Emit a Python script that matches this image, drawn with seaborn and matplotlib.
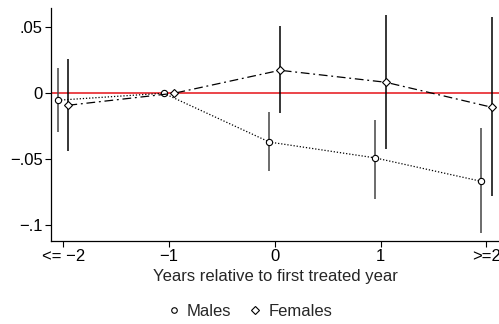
import numpy as np
import pandas as pd
import matplotlib
matplotlib.use("Agg")
import matplotlib.pyplot as plt
from matplotlib.lines import Line2D
import seaborn as sns

# event-time coefficients
years = [-2, -1, 0, 1, 2]
tick_labels = ["<= \u22122", "\u22121", "0", "1", ">=2"]

males_coef = [-0.0053, 0.0, -0.037, -0.049, -0.0667]
males_lo = [-0.029, 0.0, -0.059, -0.080, -0.106]
males_hi = [0.019, 0.0, -0.0144, -0.020, -0.026]

females_coef = [-0.0091, 0.0, 0.0174, 0.0083, -0.0106]
females_lo = [-0.044, 0.0, -0.015, -0.042, -0.078]
females_hi = [0.026, 0.0, 0.051, 0.059, 0.058]

sns.set_style("ticks")
plt.rcParams["font.family"] = ["Liberation Sans", "DejaVu Sans"]

males = pd.DataFrame({"x": np.array(years) - 0.05, "coef": males_coef,
                      "lo": males_lo, "hi": males_hi})
females = pd.DataFrame({"x": np.array(years) + 0.05, "coef": females_coef,
                        "lo": females_lo, "hi": females_hi})

fig = plt.figure(figsize=(4.99, 3.24), dpi=100)
ax = fig.add_axes([0.1022, 0.256, 0.8978, 0.719])

ax.axhline(0, color="#e8252b", lw=1.2, zorder=1)

# confidence intervals (skip reference year)
m = males.drop(index=1)
f = females.drop(index=1)
ax.vlines(m["x"], m["lo"], m["hi"], color="#444444", lw=1.1, zorder=2)
ax.vlines(f["x"], f["lo"], f["hi"], color="black", lw=1.1, zorder=2)

sns.lineplot(data=males, x="x", y="coef", ax=ax, color="black", lw=0.9,
             linestyle=(0, (1, 1.5)), marker="o", markersize=4.5,
             markerfacecolor="white", markeredgecolor="black",
             markeredgewidth=0.8, zorder=3)
sns.lineplot(data=females, x="x", y="coef", ax=ax, color="black", lw=0.9,
             linestyle=(0, (7, 3, 1.5, 3)), marker="D", markersize=4.5,
             markerfacecolor="white", markeredgecolor="black",
             markeredgewidth=0.8, zorder=3)

ax.set_xlim(-2.115, 2.12)
ax.set_ylim(-0.112, 0.0645)
ax.set_xticks(years)
ax.set_xticklabels(tick_labels)
ax.set_yticks([0.05, 0, -0.05, -0.1])
ax.set_yticklabels([".05", "0", "\u2212.05", "\u2212.1"])
ax.tick_params(axis="both", labelsize=12, length=4, width=0.8,
               color="black", labelcolor="black", pad=2)
ax.set_xlabel("Years relative to first treated year", fontsize=12, labelpad=3)
ax.set_ylabel("")

for side in ["top", "right"]:
    ax.spines[side].set_visible(False)
for side in ["left", "bottom"]:
    ax.spines[side].set_color("black")
    ax.spines[side].set_linewidth(0.9)

handles = [
    Line2D([], [], linestyle="none", marker="o", markersize=4,
           markerfacecolor="white", markeredgecolor="black", markeredgewidth=0.8),
    Line2D([], [], linestyle="none", marker="D", markersize=4,
           markerfacecolor="white", markeredgecolor="black", markeredgewidth=0.8),
]
fig.legend(handles, ["Males", "Females"], loc="center", bbox_to_anchor=(0.5, 0.04),
           ncol=2, frameon=False, fontsize=12, handlelength=0.8,
           handletextpad=0.4, columnspacing=1.0)

fig.savefig("out.png", dpi=100)
